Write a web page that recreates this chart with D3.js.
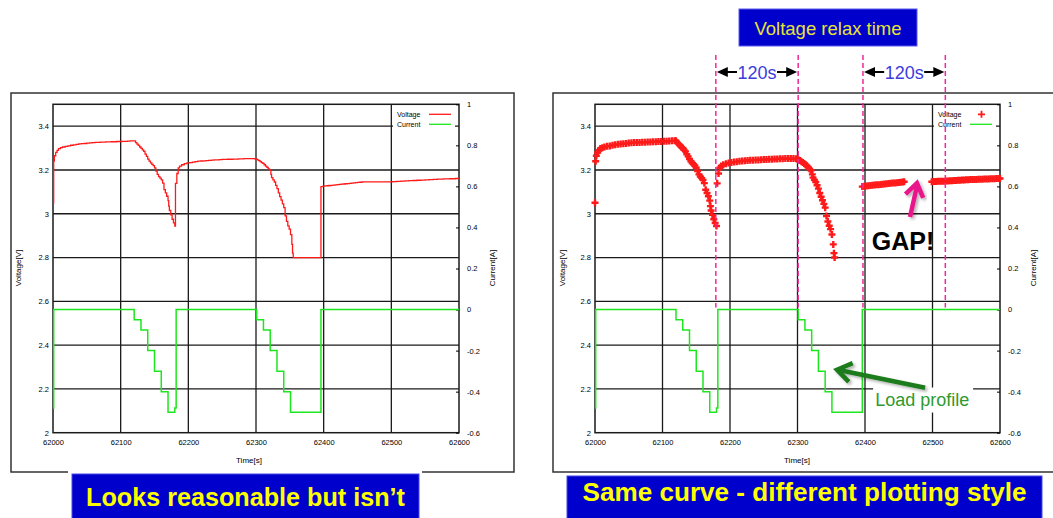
<!DOCTYPE html>
<html>
<head>
<meta charset="utf-8">
<script src="https://cdn.jsdelivr.net/npm/d3@7"></script>
<style>
  body { margin: 0; background: #fff; }
  svg { display: block; font-family: Arial, "Liberation Sans", sans-serif; }
</style>
</head>
<body>
<div id="chart"></div>
<script>
// Axis ticks
const timeTicks = [62000, 62100, 62200, 62300, 62400, 62500, 62600];
const voltTicks = [2, 2.2, 2.4, 2.6, 2.8, 3, 3.2, 3.4];
const currTicks = [-0.6, -0.4, -0.2, 0, 0.2, 0.4, 0.6, 0.8, 1];

// Logged voltage samples [time s, voltage V]
const voltageSamples = [
  [62000, 3.05], [62001, 3.24], [62002, 3.265], [62004, 3.28], [62006, 3.29], [62008, 3.298],
  [62011, 3.302], [62014, 3.305], [62018, 3.308], [62022, 3.31], [62026, 3.313], [62030, 3.315],
  [62034, 3.317], [62038, 3.319], [62042, 3.32], [62046, 3.321], [62050, 3.323], [62054, 3.324],
  [62058, 3.325], [62062, 3.326], [62066, 3.326], [62070, 3.327], [62074, 3.327], [62078, 3.328],
  [62082, 3.328], [62086, 3.329], [62090, 3.329], [62094, 3.33], [62098, 3.33], [62102, 3.331],
  [62106, 3.331], [62110, 3.332], [62114, 3.333], [62118, 3.333], [62120, 3.333],
  [62122, 3.325], [62124, 3.318], [62126, 3.312], [62128, 3.305], [62130, 3.299], [62132, 3.292],
  [62134, 3.285], [62136, 3.272], [62138, 3.262], [62140, 3.25], [62142, 3.24], [62144, 3.232],
  [62146, 3.226], [62148, 3.22], [62150, 3.21], [62152, 3.195], [62154, 3.18], [62156, 3.17],
  [62158, 3.163], [62160, 3.155], [62162, 3.14], [62164, 3.11], [62166, 3.095], [62168, 3.08],
  [62170, 3.06], [62171, 3.035], [62172, 3.015], [62174, 2.995], [62176, 2.975], [62178, 2.958],
  [62180, 2.944],
  [62181, 3.139], [62183, 3.184], [62185, 3.21], [62187, 3.218], [62190, 3.224], [62194, 3.229],
  [62198, 3.232], [62202, 3.234], [62206, 3.236], [62210, 3.238], [62214, 3.24], [62218, 3.241],
  [62222, 3.242], [62226, 3.243], [62230, 3.244], [62234, 3.245], [62238, 3.246], [62242, 3.246],
  [62246, 3.247], [62250, 3.248], [62254, 3.248], [62258, 3.249], [62262, 3.249], [62266, 3.25],
  [62270, 3.25], [62274, 3.251], [62278, 3.251], [62282, 3.252], [62286, 3.252], [62290, 3.252],
  [62294, 3.252], [62298, 3.251], [62300, 3.249],
  [62302, 3.246], [62304, 3.243], [62306, 3.238], [62308, 3.234], [62310, 3.23], [62312, 3.224],
  [62314, 3.218], [62316, 3.212], [62318, 3.205], [62320, 3.199], [62322, 3.18], [62323, 3.165],
  [62325, 3.155], [62327, 3.145], [62329, 3.13], [62331, 3.115], [62333, 3.095], [62335, 3.078],
  [62337, 3.062], [62339, 3.045], [62341, 3.028], [62343, 2.99], [62345, 2.965], [62347, 2.945],
  [62349, 2.93], [62351, 2.905], [62353, 2.86], [62354, 2.82], [62355, 2.8],
  [62396, 3.124], [62399, 3.126], [62402, 3.127], [62405, 3.128], [62408, 3.129], [62411, 3.13],
  [62414, 3.131], [62417, 3.132], [62420, 3.133], [62423, 3.134], [62426, 3.135], [62429, 3.136],
  [62432, 3.137], [62435, 3.138], [62438, 3.139], [62441, 3.14], [62444, 3.141], [62447, 3.142],
  [62450, 3.143], [62453, 3.144], [62456, 3.145], [62458, 3.146],
  [62499, 3.146], [62502, 3.147], [62505, 3.147], [62508, 3.148], [62511, 3.148], [62514, 3.149],
  [62517, 3.149], [62520, 3.15], [62523, 3.15], [62526, 3.151], [62529, 3.151], [62532, 3.152],
  [62535, 3.152], [62538, 3.153], [62541, 3.153], [62544, 3.154], [62547, 3.154], [62550, 3.155],
  [62553, 3.155], [62556, 3.156], [62559, 3.156], [62562, 3.157], [62565, 3.157], [62568, 3.158],
  [62571, 3.158], [62574, 3.158], [62577, 3.159], [62580, 3.159], [62583, 3.159], [62586, 3.16],
  [62589, 3.16], [62592, 3.16], [62595, 3.161], [62598, 3.161], [62600, 3.161]
];

// Load profile current [time s, current A], held until the next entry
const currentSteps = [
  [62000, -0.48], [62001, 0], [62120, -0.05], [62130, -0.1], [62140, -0.2], [62150, -0.3],
  [62160, -0.4], [62170, -0.5], [62180, -0.48], [62182, 0], [62301, -0.05], [62311, -0.1],
  [62321, -0.2], [62331, -0.3], [62341, -0.4], [62351, -0.5], [62396, 0], [62600, 0]
];

// Relax-time markers on the right panel
const relaxMarks = [62179, 62301, 62397, 62519];
const relaxSpans = [[62179, 62301, "120s"], [62397, 62519, "120s"]];

const W = 1053, H = 518;
const RED = "#ff1a1a", GREEN = "#1ee61e", GRID = "#1a1a1a";

const svg = d3.select("#chart").append("svg")
  .attr("width", W).attr("height", H);
svg.append("rect").attr("width", W).attr("height", H).attr("fill", "#fff");

const defs = svg.append("defs");
defs.append("filter").attr("id", "shadow")
  .attr("x", "-20%").attr("y", "-20%").attr("width", "140%").attr("height", "140%")
  .append("feDropShadow")
  .attr("dx", 2).attr("dy", 2).attr("stdDeviation", 1.5)
  .attr("flood-color", "#000").attr("flood-opacity", 0.3);

const panels = [
  { x: 53, y: 104.3, w: 406, h: 328.4, style: "line",
    frame: "M68,472 H11 V93 H514 V472 H422", timeX: 249, voltX: 18, currX: 492 },
  { x: 595, y: 104.3, w: 405, h: 328.4, style: "marker",
    frame: "M1060,93 H553 V472 H1060", timeX: 797, voltX: 562, currX: 1033 }
];

function arrowHead(tip, from, len, spread) {
  const a = Math.atan2(from[1] - tip[1], from[0] - tip[0]);
  return [a - spread, a + spread].map(b => [tip[0] + len * Math.cos(b), tip[1] + len * Math.sin(b)]);
}

function drawPanel(p) {
  const x = d3.scaleLinear().domain([62000, 62600]).range([p.x, p.x + p.w]);
  const yV = d3.scaleLinear().domain([2, 3.5]).range([p.y + p.h, p.y]);
  const yC = d3.scaleLinear().domain([-0.6, 1]).range([p.y + p.h, p.y]);
  const g = svg.append("g");

  // outer frame
  g.append("path").attr("d", p.frame)
    .attr("fill", "none").attr("stroke", "#333").attr("stroke-width", 1.5);

  // grid
  g.selectAll(".vgrid").data(timeTicks.slice(1, -1)).join("line")
    .attr("x1", d => x(d)).attr("x2", d => x(d))
    .attr("y1", p.y).attr("y2", p.y + p.h)
    .attr("stroke", GRID).attr("stroke-width", 1.3);
  g.selectAll(".hgrid").data(voltTicks.slice(1)).join("line")
    .attr("x1", p.x).attr("x2", p.x + p.w)
    .attr("y1", d => yV(d)).attr("y2", d => yV(d))
    .attr("stroke", GRID).attr("stroke-width", 1.3);
  g.append("rect")
    .attr("x", p.x).attr("y", p.y).attr("width", p.w).attr("height", p.h)
    .attr("fill", "none").attr("stroke", GRID).attr("stroke-width", 1.5);

  // axes
  const fmt = d => String(d);
  const axisLeft = g.append("g").attr("transform", `translate(${p.x},0)`)
    .call(d3.axisLeft(yV).tickValues(voltTicks).tickFormat(fmt).tickSize(0).tickPadding(4));
  const axisRight = g.append("g").attr("transform", `translate(${p.x + p.w},0)`)
    .call(d3.axisRight(yC).tickValues(currTicks).tickFormat(fmt).tickSizeInner(-3).tickSizeOuter(0).tickPadding(8));
  const axisBottom = g.append("g").attr("transform", `translate(0,${p.y + p.h})`)
    .call(d3.axisBottom(x).tickValues(timeTicks).tickSize(0).tickPadding(7).tickFormat(fmt));
  [axisLeft, axisRight, axisBottom].forEach(a => {
    a.select(".domain").remove();
    a.attr("font-size", 7.5).attr("font-family", null);
    a.selectAll("text").attr("fill", "#000");
  });

  g.append("text").attr("x", p.timeX).attr("y", 463)
    .attr("text-anchor", "middle").attr("font-size", 8).text("Time[s]");
  g.append("text").attr("transform", `translate(${p.voltX},268) rotate(-90)`)
    .attr("text-anchor", "middle").attr("dy", "0.35em").attr("font-size", 8).text("Voltage[V]");
  g.append("text").attr("transform", `translate(${p.currX},268) rotate(-90)`)
    .attr("text-anchor", "middle").attr("dy", "0.35em").attr("font-size", 8).text("Current[A]");

  // legend
  const lx = p.x + p.w - 66, ly = p.y + 2;
  g.append("rect").attr("x", lx).attr("y", ly).attr("width", 62).attr("height", 22).attr("fill", "#fff");
  const leg = [["Voltage", RED, 8], ["Current", GREEN, 18]];
  leg.forEach(([name, color, dy]) => {
    g.append("text").attr("x", lx + 4).attr("y", ly + dy).attr("dy", "0.35em")
      .attr("font-size", 7).text(name);
  });
  if (p.style === "line") {
    g.append("line").attr("x1", lx + 36).attr("x2", lx + 58).attr("y1", ly + 8).attr("y2", ly + 8)
      .attr("stroke", RED).attr("stroke-width", 1.3);
  } else {
    g.append("path").attr("d", `M${lx + 44},${ly + 8}h7M${lx + 47.5},${ly + 4.5}v7`)
      .attr("stroke", RED).attr("stroke-width", 1.8);
  }
  g.append("line").attr("x1", lx + 36).attr("x2", lx + 58).attr("y1", ly + 18).attr("y2", ly + 18)
    .attr("stroke", GREEN).attr("stroke-width", 1.3);

  // current load profile
  const currLine = d3.line().x(d => x(d[0])).y(d => yC(d[1])).curve(d3.curveStepAfter);
  g.append("path").datum(currentSteps).attr("d", currLine)
    .attr("fill", "none").attr("stroke", GREEN).attr("stroke-width", 1.5);

  // voltage
  if (p.style === "line") {
    const vLine = d3.line().x(d => x(d[0])).y(d => yV(d[1])).curve(d3.curveStepAfter);
    g.append("path").datum(voltageSamples).attr("d", vLine)
      .attr("fill", "none").attr("stroke", RED).attr("stroke-width", 1.3);
  } else {
    g.selectAll(".vmark").data(voltageSamples).join("path")
      .attr("class", "vmark")
      .attr("transform", d => `translate(${x(d[0])},${yV(d[1])})`)
      .attr("d", "M-3.5,0H3.5M0,-3.5V3.5")
      .attr("stroke", RED).attr("stroke-width", 2.4);
  }
  return { x, yV, yC, g };
}

const left = drawPanel(panels[0]);
const right = drawPanel(panels[1]);

// ---- annotations on the right panel ----
const rx = right.x, ryV = right.yV, ryC = right.yC;

svg.selectAll(".relax").data(relaxMarks).join("line")
  .attr("x1", d => rx(d)).attr("x2", d => rx(d))
  .attr("y1", 55).attr("y2", ryC(0) - 2)
  .attr("stroke", "#f0289a").attr("stroke-width", 1.5).attr("stroke-dasharray", "5,3");

relaxSpans.forEach(([t0, t1, label]) => {
  const x0 = rx(t0) + 1, x1 = rx(t1) - 1, y = 72, mid = (x0 + x1) / 2;
  svg.append("line").attr("x1", x0 + 8).attr("x2", x1 - 8).attr("y1", y).attr("y2", y)
    .attr("stroke", "#000").attr("stroke-width", 2);
  svg.append("path").attr("d", `M${x0},${y}L${x0 + 11},${y - 5}L${x0 + 11},${y + 5}Z`).attr("fill", "#000");
  svg.append("path").attr("d", `M${x1},${y}L${x1 - 11},${y - 5}L${x1 - 11},${y + 5}Z`).attr("fill", "#000");
  svg.append("rect").attr("x", mid - 20).attr("y", y - 10).attr("width", 40).attr("height", 20).attr("fill", "#fff");
  svg.append("text").attr("x", mid).attr("y", y + 7).attr("text-anchor", "middle")
    .attr("font-size", 18).attr("fill", "#3c3cdc").text(label);
});

svg.append("rect").attr("x", 739).attr("y", 9).attr("width", 178).attr("height", 37)
  .attr("fill", "#0000cc").attr("stroke", "#5a5af0").attr("stroke-width", 1);
svg.append("text").attr("x", 828).attr("y", 34.5).attr("text-anchor", "middle")
  .attr("font-size", 18.5).attr("fill", "#e6e632").text("Voltage relax time");

// GAP!
svg.append("text").attr("x", rx(62410)).attr("y", ryV(2.834))
  .attr("font-size", 25).attr("font-weight", "bold").attr("fill", "#000").text("GAP!");
{
  const tail = [rx(62466.7), ryV(2.985)], tip = [rx(62477), ryV(3.14)];
  const [a1, a2] = arrowHead(tip, tail, 16, 0.6);
  const ga = svg.append("g").attr("filter", "url(#shadow)")
    .attr("fill", "none").attr("stroke", "#e8168a").attr("stroke-width", 4.5);
  ga.append("line").attr("x1", tail[0]).attr("y1", tail[1]).attr("x2", tip[0]).attr("y2", tip[1] + 3);
  ga.append("path").attr("d", `M${a1}L${tip}L${a2}`).attr("stroke-linejoin", "miter");
}

// Load profile
svg.append("rect").attr("x", rx(62412)).attr("y", ryC(-0.38)).attr("width", 100).attr("height", 25).attr("fill", "#fff");
svg.append("text").attr("x", rx(62415)).attr("y", ryC(-0.472))
  .attr("font-size", 18).attr("fill", "#2f9a2f").text("Load profile");
{
  const tail = [rx(62489), ryC(-0.381)], tip = [rx(62358.5), ryC(-0.293)];
  const [a1, a2] = arrowHead(tip, tail, 17, 0.6);
  const ga = svg.append("g").attr("filter", "url(#shadow)")
    .attr("fill", "none").attr("stroke", "#1e7b1e").attr("stroke-width", 4.5);
  ga.append("line").attr("x1", tail[0]).attr("y1", tail[1]).attr("x2", tip[0] + 3).attr("y2", tip[1] + 0.6);
  ga.append("path").attr("d", `M${a1}L${tip}L${a2}`).attr("stroke-linejoin", "miter");
}

// ---- caption boxes ----
const captions = [
  { x: 72, y: 474, w: 347, text: "Looks reasonable but isn\u2019t", size: 25, base: 505.5, len: 319 },
  { x: 567, y: 476, w: 475, text: "Same curve - different plotting style", size: 26, base: 501, len: 444 }
];
captions.forEach(c => {
  svg.append("rect").attr("x", c.x).attr("y", c.y).attr("width", c.w).attr("height", 50)
    .attr("fill", "#0000cc").attr("stroke", "#4848e8").attr("stroke-width", 1);
  svg.append("text").attr("x", c.x + c.w / 2).attr("y", c.base).attr("text-anchor", "middle")
    .attr("font-size", c.size).attr("font-weight", "bold").attr("fill", "#ffff00")
    .attr("textLength", c.len).attr("lengthAdjust", "spacingAndGlyphs").text(c.text);
});
</script>
</body>
</html>
